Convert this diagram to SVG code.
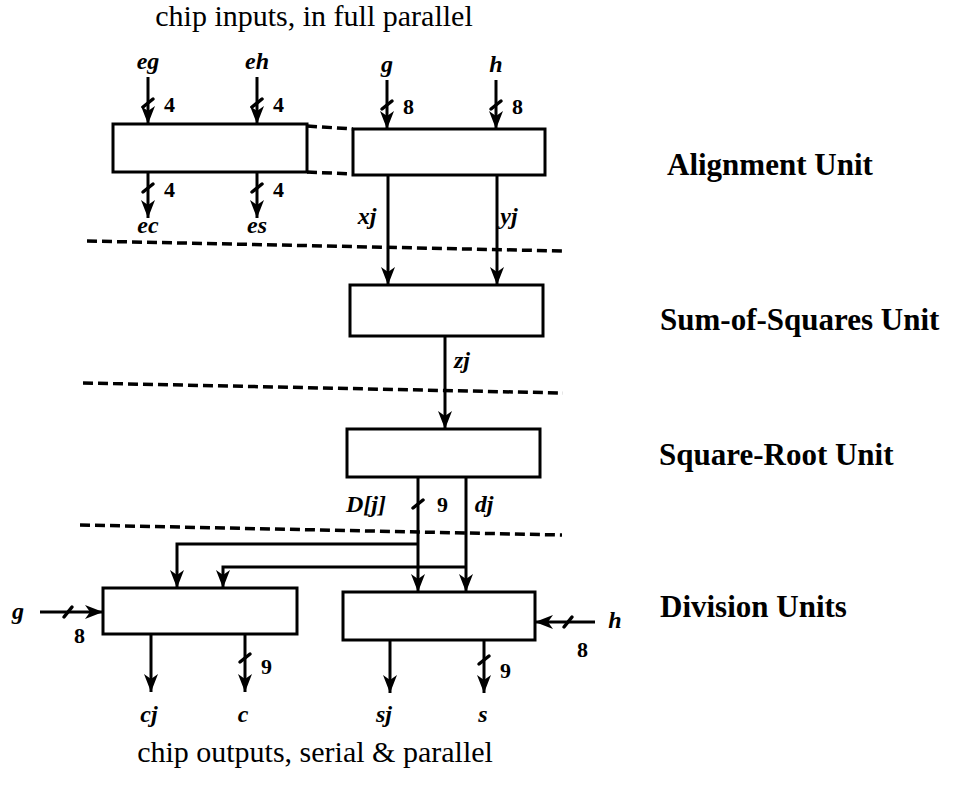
<svg xmlns="http://www.w3.org/2000/svg" width="956" height="791" viewBox="0 0 956 791">
<defs>
<marker id="ah" viewBox="0 0 18 14" refX="18" refY="7" markerWidth="18" markerHeight="14" orient="auto" markerUnits="userSpaceOnUse">
<path d="M0,0 L18,7 L0,14 L5,7 Z" fill="#000"/>
</marker>
</defs>
<style>
.box{fill:#fff;stroke:#000;stroke-width:3}
.w{fill:none;stroke:#000;stroke-width:3}
.a{fill:none;stroke:#000;stroke-width:3;marker-end:url(#ah)}
.sl{fill:none;stroke:#000;stroke-width:3.5;stroke-linecap:round}
.dash{fill:none;stroke:#000;stroke-width:3.5;stroke-dasharray:10 5}
.t{font-family:"Liberation Serif","Times New Roman",serif;font-size:30px;fill:#000}
.u{font-family:"Liberation Serif","Times New Roman",serif;font-size:31px;font-weight:bold;fill:#000}
.v{font-family:"Liberation Serif","Times New Roman",serif;font-size:24px;font-style:italic;font-weight:bold;fill:#000;text-anchor:middle}
.n{font-family:"Liberation Serif","Times New Roman",serif;font-size:22px;font-weight:bold;fill:#000}
</style>
<rect width="956" height="791" fill="#fff"/>

<text class="t" x="314" y="26" text-anchor="middle">chip inputs, in full parallel</text>
<text class="t" x="315" y="762" text-anchor="middle">chip outputs, serial &amp; parallel</text>

<text class="u" x="667" y="175">Alignment Unit</text>
<text class="u" x="660" y="330">Sum-of-Squares Unit</text>
<text class="u" x="659" y="465">Square-Root Unit</text>
<text class="u" x="660" y="617">Division Units</text>

<g id="stage-separators">
<path class="dash" d="M87,241 L563,251"/>
<path class="dash" d="M83,383 L563,393"/>
<path class="dash" d="M80,525 L562,535"/>
</g>

<g id="connectors">
<path class="a" d="M148,77 V124"/>
<path class="a" d="M257,77 V124"/>
<path class="a" d="M387,80 V129"/>
<path class="a" d="M496,80 V129"/>
<path class="a" d="M148,172 V218"/>
<path class="a" d="M257,172 V218"/>
<path class="dash" d="M307,126 L353,129"/>
<path class="dash" d="M307,172 L353,174"/>
<path class="a" d="M388,175 V285"/>
<path class="a" d="M497,175 V285"/>
<path class="a" d="M445,336 V429"/>
<path class="a" d="M418,477 V592"/>
<path class="a" d="M466,477 V592"/>
<path class="a" d="M418,544 H177 V588"/>
<path class="a" d="M466,567 H223 V588"/>
<path class="a" d="M40,612 H103"/>
<path class="a" d="M595,622 H535"/>
<path class="a" d="M151,634 V692"/>
<path class="a" d="M245,634 V692"/>
<path class="a" d="M390,640 V693"/>
<path class="a" d="M484,640 V693"/>
<g id="bus-slashes">
<path class="sl" d="M143,107 L153,99"/>
<path class="sl" d="M252,107 L262,99"/>
<path class="sl" d="M382,109 L392,101"/>
<path class="sl" d="M491,109 L501,101"/>
<path class="sl" d="M143,192 L153,184"/>
<path class="sl" d="M252,192 L262,184"/>
<path class="sl" d="M413,508 L423,500"/>
<path class="sl" d="M64,617 L72,607"/>
<path class="sl" d="M564,627 L572,617"/>
<path class="sl" d="M240,662 L250,654"/>
<path class="sl" d="M479,664 L489,656"/>
</g>
</g>

<g id="alignment-left">
<rect class="box" x="113" y="124" width="194" height="48"/>
</g>
<g id="alignment-right">
<rect class="box" x="353" y="129" width="192" height="46"/>
</g>
<g id="sum-of-squares">
<rect class="box" x="350" y="285" width="193" height="51"/>
</g>
<g id="square-root">
<rect class="box" x="347" y="429" width="193" height="48"/>
</g>
<g id="division-left">
<rect class="box" x="103" y="588" width="194" height="46"/>
</g>
<g id="division-right">
<rect class="box" x="343" y="592" width="192" height="48"/>
</g>

<g id="labels">
<text class="v" x="148" y="69">eg</text>
<text class="v" x="257" y="69">eh</text>
<text class="v" x="387" y="72">g</text>
<text class="v" x="496" y="72">h</text>
<text class="n" x="164" y="112">4</text>
<text class="n" x="273" y="112">4</text>
<text class="n" x="403" y="114">8</text>
<text class="n" x="512" y="114">8</text>
<text class="n" x="164" y="197">4</text>
<text class="n" x="273" y="197">4</text>
<text class="v" x="148" y="233">ec</text>
<text class="v" x="257" y="233">es</text>
<text class="v" x="367" y="224">xj</text>
<text class="v" x="509" y="224">yj</text>
<text class="v" x="462" y="368">zj</text>
<text class="v" x="366" y="512">D[j]</text>
<text class="n" x="437" y="512">9</text>
<text class="v" x="484" y="512">dj</text>
<text class="v" x="18" y="619">g</text>
<text class="n" x="74" y="643">8</text>
<text class="v" x="615" y="628">h</text>
<text class="n" x="577" y="657">8</text>
<text class="n" x="261" y="674">9</text>
<text class="n" x="500" y="678">9</text>
<text class="v" x="149" y="722">cj</text>
<text class="v" x="243" y="722">c</text>
<text class="v" x="384" y="722">sj</text>
<text class="v" x="483" y="722">s</text>
</g>
</svg>
